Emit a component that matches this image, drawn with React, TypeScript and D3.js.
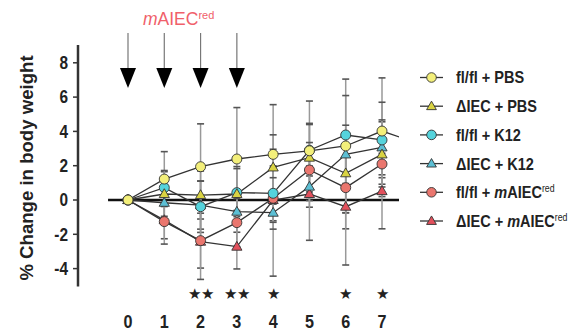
import React from 'react';
import * as d3 from 'd3';

// days shown on the x axis (day 8 only exists so the clipped line runs off the right edge)
const days = [0, 1, 2, 3, 4, 5, 6, 7];
const xTicks = ['0', '1', '2', '3', '4', '5', '6', '7'];
const yTicks = [-4, -2, 0, 2, 4, 6, 8];
const arrowDays = [0, 1, 2, 3];

const seriesNames = ['fl/fl + PBS', 'ΔIEC + PBS', 'fl/fl + K12', 'ΔIEC + K12', 'fl/fl + mAIEC', 'ΔIEC + mAIEC'];
const seriesShapes = ['circle', 'triangle', 'circle', 'triangle', 'circle', 'triangle'];
const seriesColors = ['#f3ef7a', '#d9d343', '#55d3dc', '#5cbfd4', '#ea766e', '#e2505c'];

const flPBS = [0, 1.22, 1.94, 2.39, 2.66, 2.87, 3.15, 4.02, 3.3];
const dPBS = [0, 0.35, 0.29, 0.35, 1.9, 2.47, 1.56, 2.66];
const flK12 = [0, 0.72, -0.39, 0.43, 0.39, 2.9, 3.79, 3.5];
const dK12 = [0, -0.16, -0.3, -0.68, -0.74, 0.78, 2.66, 3.07];
const flRed = [0, -1.26, -2.37, -1.32, 0.1, 1.75, 0.72, 2.1];
const dRed = [0, -1.17, -2.43, -2.72, 0.0, 0.35, -0.39, 0.52];

const sdFlPBS = [0, 1.6, 2.5, 3.0, 2.9, 2.9, 3.9, 3.1];
const sdDPBS = [0, 1.3, 1.4, 1.6, 1.9, 2.0, 2.3, 1.9];
const sdFlK12 = [0, 1.0, 1.5, 1.4, 1.6, 1.5, 2.3, 2.2];
const sdDK12 = [0, 1.2, 1.4, 1.2, 3.7, 1.2, 1.7, 1.6];
const sdFlRed = [0, 1.0, 1.6, 1.4, 1.8, 1.6, 2.4, 1.9];
const sdDRed = [0, 1.4, 2.2, 1.3, 1.3, 2.7, 3.4, 2.2];

const stars = [
  { day: 2, label: '★★' },
  { day: 3, label: '★★' },
  { day: 4, label: '★' },
  { day: 6, label: '★' },
  { day: 7, label: '★' },
];

const means = [flPBS, dPBS, flK12, dK12, flRed, dRed];
const sds = [sdFlPBS, sdDPBS, sdFlK12, sdDK12, sdFlRed, sdDRed];

const font = "'Liberation Sans', Arial, sans-serif";

const Marker = ({ shape, x, y, fill, size }: any) =>
  shape === 'circle' ? (
    <circle cx={x} cy={y} r={size} fill={fill} stroke="#333" strokeWidth={0.9} />
  ) : (
    <path
      d={d3.symbol().type(d3.symbolTriangle).size(size * size * 1.8)()!}
      transform={`translate(${x},${y + 0.6})`}
      fill={fill}
      stroke="#333"
      strokeWidth={0.9}
    />
  );

export default function App() {
  const width = 582;
  const height = 333;

  const x = d3.scaleLinear().domain([0, 7]).range([128, 382]);
  const y = d3.scaleLinear().domain([0, 8]).range([200, 62.8]);

  const line = d3
    .line<number>()
    .x((_, i) => x(i))
    .y((d) => y(d));

  const legendY = d3.scaleLinear().domain([0, 5]).range([77.5, 221]);

  return (
    <svg width={width} height={height} style={{ position: 'absolute', left: 0, top: 0, background: '#fff' }} fontFamily={font}>
      <defs>
        <clipPath id="plot">
          <rect x={90} y={0} width={309} height={height} />
        </clipPath>
      </defs>

      {/* treatment label and arrows */}
      <text x={143} y={25} fill="#f0606a" fontSize={17.5}>
        <tspan fontStyle="italic">m</tspan>AIEC
        <tspan fontSize={11} dy={-6.5}>red</tspan>
      </text>
      {arrowDays.map((d) => (
        <g key={d}>
          <line x1={x(d)} x2={x(d)} y1={33} y2={70} stroke="#777" strokeWidth={1.2} />
          <path d={`M${x(d) - 8},${68} L${x(d) + 8},${68} L${x(d)},${88} Z`} fill="#000" />
        </g>
      ))}

      {/* y axis */}
      <line x1={78} x2={78} y1={45} y2={286.5} stroke="#333" strokeWidth={2.5} />
      {yTicks.map((t) => (
        <g key={t}>
          <line x1={73} x2={78} y1={y(t)} y2={y(t)} stroke="#333" strokeWidth={1.5} />
          <text
            transform={`translate(68,${y(t)}) scale(0.88,1)`}
            dy="0.36em"
            textAnchor="end"
            fontSize={17.5}
            fontWeight="bold"
            fill="#222"
          >
            {t}
          </text>
        </g>
      ))}
      <text
        transform={`translate(26,168) rotate(-90)`}
        textAnchor="middle"
        dy="0.36em"
        fontSize={18.6}
        fontWeight="bold"
        fill="#222"
      >
        % Change in body weight
      </text>

      {/* x labels */}
      {xTicks.map((t, i) => (
        <text
          key={t}
          transform={`translate(${x(days[i])},328) scale(0.85,1)`}
          textAnchor="middle"
          fontSize={19}
          fontWeight="bold"
          fill="#222"
        >
          {t}
        </text>
      ))}
      {stars.map((s) => (
        <text key={s.day} x={x(s.day)} y={299} textAnchor="middle" fontSize={14.5} fill="#222">
          {s.label}
        </text>
      ))}

      <g clipPath="url(#plot)">
        {/* zero line */}
        <line x1={x(-0.55)} x2={x(7.5)} y1={y(0)} y2={y(0)} stroke="#111" strokeWidth={2.6} />

        {/* error bars */}
        {means.map((m, si) =>
          sds[si].map((sd, i) =>
            sd > 0 ? (
              <g key={`${si}-${i}`}>
                <line x1={x(i)} x2={x(i)} y1={y(m[i] + sd)} y2={y(m[i] - sd)} stroke="#999" strokeWidth={1.5} />
                <line x1={x(i) - 3.5} x2={x(i) + 3.5} y1={y(m[i] + sd)} y2={y(m[i] + sd)} stroke="#555" strokeWidth={1.6} />
                <line x1={x(i) - 3.5} x2={x(i) + 3.5} y1={y(m[i] - sd)} y2={y(m[i] - sd)} stroke="#555" strokeWidth={1.6} />
              </g>
            ) : null
          )
        )}

        {/* series lines */}
        {means.map((m, si) => (
          <path key={si} d={line(m)!} fill="none" stroke="#333" strokeWidth={1.3} />
        ))}

        {/* markers */}
        {means
          .map((m, si) => ({ m, si }))
          .reverse()
          .map(({ m, si }) =>
            days.map((d) => (
              <Marker key={`${si}-${d}`} shape={seriesShapes[si]} x={x(d)} y={y(m[d])} fill={seriesColors[si]} size={5} />
            ))
          )}
      </g>

      {/* legend */}
      {seriesNames.map((name, i) => {
        const ly = legendY(i);
        const isRed = i >= 4;
        const parts = name.split(' + ');
        return (
          <g key={name}>
            <line x1={420} x2={443} y1={ly} y2={ly} stroke="#333" strokeWidth={1.3} />
            <Marker shape={seriesShapes[i]} x={431.5} y={ly} fill={seriesColors[i]} size={4.8} />
            <text
              transform={`translate(456,${ly}) scale(0.88,1)`}
              dy="0.36em"
              fontSize={16.5}
              fontWeight="bold"
              fill="#222"
            >
              {parts[0]} + {isRed ? <tspan fontStyle="italic">m</tspan> : null}
              {isRed ? 'AIEC' : parts[1]}
              {isRed ? (
                <tspan fontSize={10} dy={-6} fontWeight="normal">
                  red
                </tspan>
              ) : null}
            </text>
          </g>
        );
      })}
    </svg>
  );
}
